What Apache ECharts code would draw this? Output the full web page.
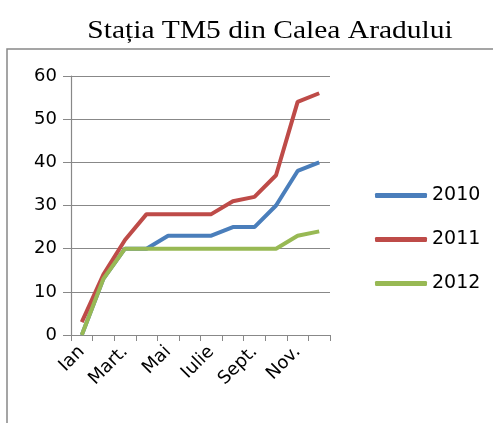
<!DOCTYPE html>
<html><head><meta charset="utf-8">
<script src="https://cdn.jsdelivr.net/npm/echarts@6/dist/echarts.min.js"></script>
<style>html,body{margin:0;padding:0;background:#fff}#c{width:493px;height:423px}</style>
</head><body><div id="c"></div>
<script>
const months = ['Ian','Feb.','Mart.','Apr.','Mai','Iunie','Iulie','Aug.','Sept.','Oct.','Nov.','Dec.'];
const s2010 = [0, 13, 20, 20, 23, 23, 23, 25, 25, 30, 38, 40];
const s2011 = [3, 14, 22, 28, 28, 28, 28, 31, 32, 37, 54, 56];
const s2012 = [0, 13, 20, 20, 20, 20, 20, 20, 20, 20, 23, 24];
const yTicks = [0, 10, 20, 30, 40, 50, 60];
const titleText = 'Stația TM5 din Calea Aradului';
const chart = echarts.init(document.getElementById('c'));
const font = '"DejaVu Sans", sans-serif';
chart.setOption({
  animation: false,
  graphic: [
    {type: 'rect', shape: {x: 7, y: 49, width: 500, height: 400}, style: {fill: 'none', stroke: '#888', lineWidth: 1.5}, z: -1},
    {type: 'text', x: 270, y: 31, scaleX: 1.18, style: {text: titleText, font: '25px "Liberation Serif", "Times New Roman", serif', fill: '#000', textAlign: 'center', textVerticalAlign: 'middle'}}
  ],
  grid: {left: 71, top: 76, width: 259, height: 259},
  legend: {orient: 'vertical', left: 370, top: 181, itemWidth: 52, itemHeight: 5, itemGap: 25,
    textStyle: {fontFamily: font, fontSize: 19, color: '#000'},
    data: ['2010', '2011', '2012'], icon: 'roundRect'},
  xAxis: {type: 'category', data: months, boundaryGap: true,
    axisLine: {lineStyle: {color: '#888', width: 1.2}},
    axisTick: {show: true, length: 6, interval: 0, lineStyle: {color: '#888'}},
    axisLabel: {interval: 1, rotate: 45, margin: 14, fontFamily: font, fontSize: 18, color: '#000'}},
  yAxis: {type: 'value', min: yTicks[0], max: yTicks[yTicks.length - 1], interval: 10,
    axisLine: {show: true, lineStyle: {color: '#888', width: 1.2}},
    axisTick: {show: true, length: 8, lineStyle: {color: '#888'}},
    splitLine: {lineStyle: {color: '#888', width: 1.2}},
    axisLabel: {margin: 14, fontFamily: font, fontSize: 18, color: '#000'}},
  series: [
    {name: '2010', type: 'line', data: s2010, symbol: 'none', lineStyle: {width: 4, color: '#4a7ebb'}, itemStyle: {color: '#4a7ebb'}},
    {name: '2011', type: 'line', data: s2011, symbol: 'none', lineStyle: {width: 4, color: '#be4b48'}, itemStyle: {color: '#be4b48'}},
    {name: '2012', type: 'line', data: s2012, symbol: 'none', lineStyle: {width: 4, color: '#98b954'}, itemStyle: {color: '#98b954'}}
  ]
});
</script></body></html>
